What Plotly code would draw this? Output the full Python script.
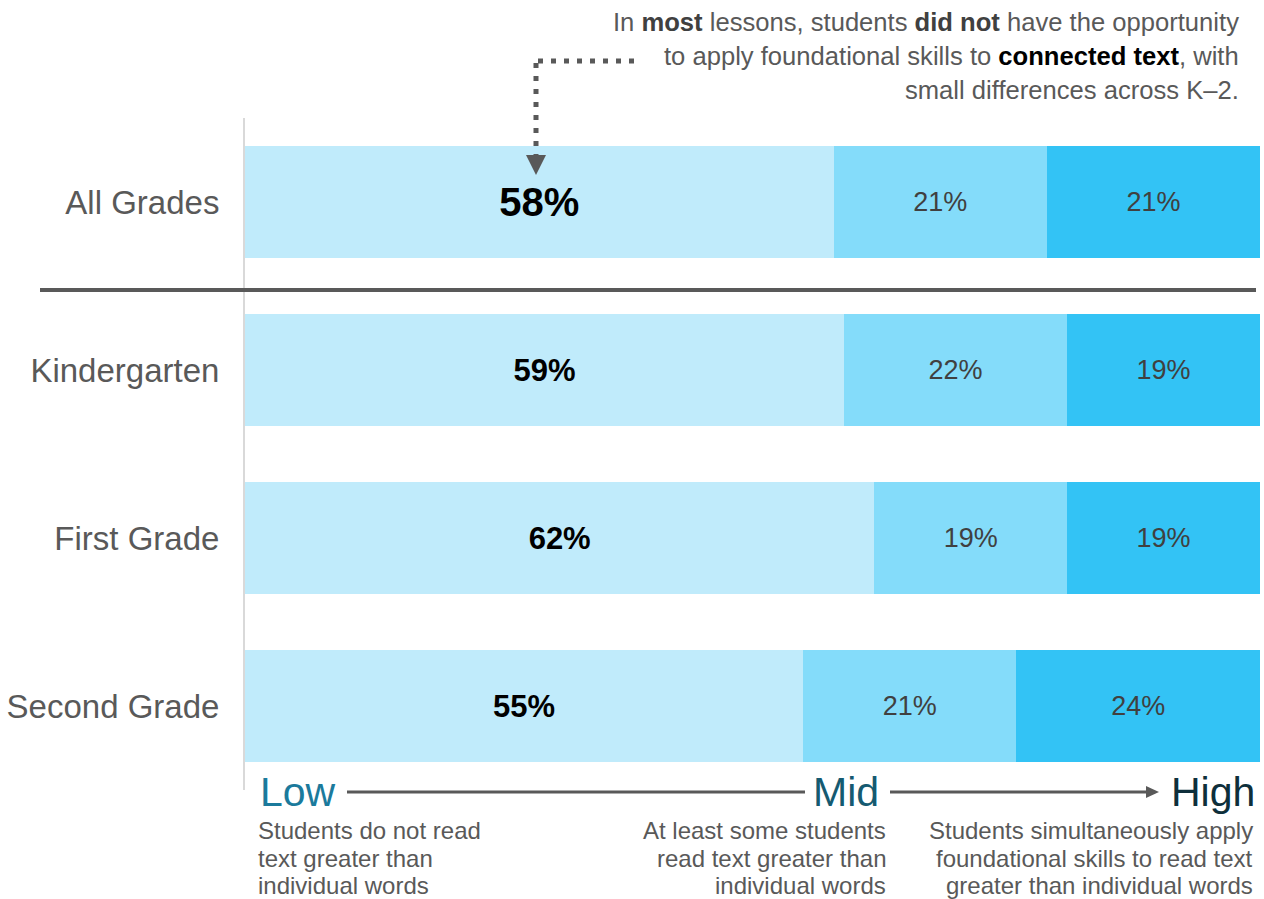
import plotly.graph_objects as go

categories = ["All Grades", "Kindergarten", "First Grade", "Second Grade"]
low_vals = [58, 59, 62, 55]
mid_vals = [21, 22, 19, 21]
high_vals = [21, 19, 19, 24]

FONT = "Liberation Sans, Arial, Helvetica, sans-serif"
C_LOW, C_MID, C_HIGH = "#C0EBFB", "#84DCFA", "#33C3F5"

W, H = 1264, 899
ML, MR, MT, MB = 245, 4, 118, 109
PW, PH = W - ML - MR, H - MT - MB


def px(xp):
    return (xp - ML) / PW


def py(yp):
    return (H - MB - yp) / PH


fig = go.Figure()

low_text = [f"<b>{v}%</b>" for v in low_vals]
low_sizes = [40 if c == "All Grades" else 31 for c in categories]

fig.add_trace(go.Bar(
    y=categories, x=low_vals, orientation="h", marker=dict(color=C_LOW, line=dict(width=0)),
    text=low_text, textposition="inside", insidetextanchor="middle", textangle=0,
    textfont=dict(family=FONT, size=low_sizes, color="#000000"), width=0.665,
    hoverinfo="skip", showlegend=False,
))
fig.add_trace(go.Bar(
    y=categories, x=mid_vals, orientation="h", marker=dict(color=C_MID, line=dict(width=0)),
    text=[f"{v}%" for v in mid_vals], textposition="inside", insidetextanchor="middle", textangle=0,
    textfont=dict(family=FONT, size=27, color="#404040"), width=0.665,
    hoverinfo="skip", showlegend=False,
))
fig.add_trace(go.Bar(
    y=categories, x=high_vals, orientation="h", marker=dict(color=C_HIGH, line=dict(width=0)),
    text=[f"{v}%" for v in high_vals], textposition="inside", insidetextanchor="middle", textangle=0,
    textfont=dict(family=FONT, size=27, color="#404040"), width=0.665,
    hoverinfo="skip", showlegend=False,
))

shapes = []
# separator between All Grades and per-grade rows
shapes.append(dict(type="line", xref="paper", yref="paper", x0=px(40), x1=px(1256), y0=py(290), y1=py(290),
                   line=dict(color="#595959", width=4)))
# dotted callout arrow
shapes.append(dict(type="line", xref="paper", yref="paper", x0=px(634), x1=px(536), y0=py(61), y1=py(61),
                   line=dict(color="#595959", width=5, dash="5px,8px")))
shapes.append(dict(type="line", xref="paper", yref="paper", x0=px(536), x1=px(536), y0=py(63), y1=py(156),
                   line=dict(color="#595959", width=5, dash="5px,8px")))
shapes.append(dict(type="path", xref="paper", yref="paper",
                   path=f"M {px(526)} {py(155)} L {px(546)} {py(155)} L {px(536)} {py(175)} Z",
                   fillcolor="#595959", line=dict(width=0)))
# Low -> Mid -> High scale arrows
shapes.append(dict(type="line", xref="paper", yref="paper", x0=px(347), x1=px(805), y0=py(792), y1=py(792),
                   line=dict(color="#595959", width=3)))
shapes.append(dict(type="line", xref="paper", yref="paper", x0=px(890), x1=px(1150), y0=py(792), y1=py(792),
                   line=dict(color="#595959", width=3)))
shapes.append(dict(type="path", xref="paper", yref="paper",
                   path=f"M {px(1146)} {py(786)} L {px(1159)} {py(792)} L {px(1146)} {py(798)} Z",
                   fillcolor="#595959", line=dict(width=0)))

annotations = []


def add_lines(lines, x, xanchor, y_centers, font):
    for line, yc in zip(lines, y_centers):
        annotations.append(dict(xref="paper", yref="paper", x=px(x), y=py(yc), xanchor=xanchor,
                                yanchor="middle", showarrow=False, borderpad=0, text=line, font=font))


top_font = dict(family=FONT, size=25.6, color="#595959")
add_lines([
    "In <b><span style='color:#404040'>most</span></b> lessons, students "
    "<b><span style='color:#404040'>did not</span></b> have the opportunity",
    "to apply foundational skills to <b><span style='color:#000000'>connected text</span></b>, with",
    "small differences across K\u20132.",
], 1240, "right", [22, 56, 90], top_font)

annotations.append(dict(xref="paper", yref="paper", x=px(258), y=py(792), xanchor="left", yanchor="middle",
                        showarrow=False, text="Low", font=dict(family=FONT, size=41, color="#1B7A9C")))
annotations.append(dict(xref="paper", yref="paper", x=px(881), y=py(792), xanchor="right", yanchor="middle",
                        showarrow=False, text="Mid", font=dict(family=FONT, size=41, color="#155A71")))
annotations.append(dict(xref="paper", yref="paper", x=px(1257), y=py(792), xanchor="right", yanchor="middle",
                        showarrow=False, text="High", font=dict(family=FONT, size=41, color="#0E2F3B")))

desc_font = dict(family=FONT, size=24, color="#595959")
desc_y = [831, 858, 885]
add_lines(["Students do not read", "text greater than", "individual words"], 257, "left", desc_y, desc_font)
add_lines(["At least some students", "read text greater than", "individual words"], 887, "right", desc_y, desc_font)
add_lines(["Students simultaneously apply", "foundational skills to read text", "greater than individual words"],
          1254, "right", desc_y, desc_font)

fig.update_layout(
    barmode="stack",
    width=W, height=H,
    margin=dict(l=ML, r=MR, t=MT, b=MB, autoexpand=False),
    paper_bgcolor="white", plot_bgcolor="white",
    shapes=shapes, annotations=annotations,
    xaxis=dict(range=[0, 100], visible=False, fixedrange=True),
    yaxis=dict(type="category", categoryorder="array", categoryarray=categories, range=[3.5, -0.5],
               showline=True, linecolor="#D9D9D9", linewidth=2, showgrid=False, zeroline=False,
               ticks="outside", ticklen=17, tickcolor="rgba(0,0,0,0)",
               tickfont=dict(family=FONT, size=33, color="#595959"), fixedrange=True),
    font=dict(family=FONT),
)

fig.write_html("out.html", include_plotlyjs=True, config={"displayModeBar": False})
